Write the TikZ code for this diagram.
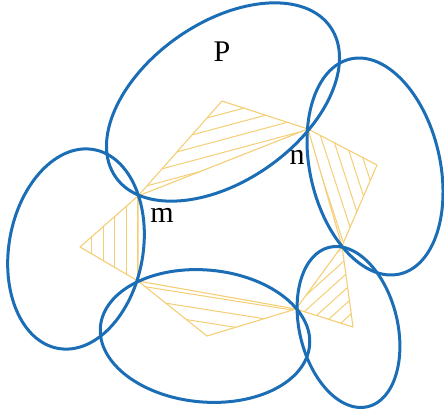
\documentclass[tikz,border=0pt]{standalone}
\usepackage{fontspec}
\setmainfont{Liberation Serif}
\usepackage{tikz}
\usepackage{xcolor}
\usetikzlibrary{calc}
\definecolor{ringblue}{HTML}{1B6EB6}
\definecolor{wedgegold}{HTML}{F4CE74}
\tikzset{
  region/.style={draw=ringblue,line width=1.5pt},
  wedgeedge/.style={draw=wedgegold,line width=0.55pt,line join=round},
  hatchline/.style={draw=wedgegold,line width=0.5pt},
  tag/.style={font=\fontsize{15}{18}\selectfont,inner sep=0pt}
}

\begin{document}
\begin{tikzpicture}[x=0.5pt,y=0.5pt]
    \useasboundingbox (0,0) rectangle (444,414);
    % vertices where the rings cross
    \coordinate (m)  at (138,218);
    \coordinate (n)  at (308,285);
    \coordinate (bl) at (138,133);
    \coordinate (br) at (296,105);
    \coordinate (r)  at (342,168);
    % outer corners of the wedges
    \coordinate (ttop)   at (222,313);
    \coordinate (tleft)  at (80,167);
    \coordinate (tbot)   at (207,78);
    \coordinate (tbr)    at (353,87);
    \coordinate (tright) at (377,249);

    % hatched wedges
    \foreach \pa/\pb/\pc/\ang/\sp in {m/n/ttop/15/12.5, m/bl/tleft/90/11.5,
        bl/br/tbot/-9/13, r/br/tbr/42/11, n/r/tright/-72/11.2} {
      \begin{scope}
        \clip (\pa) -- (\pb) -- (\pc) -- cycle;
        \foreach \k in {-20,...,20}
          \draw[hatchline] ($(\pc)+(\ang+90:\k*\sp)+(\ang:-260)$) -- ++(\ang:520);
      \end{scope}
      \draw[wedgeedge] (\pa) -- (\pb) -- (\pc) -- cycle;
    }

    % rings
    \foreach \cx/\cy/\rot/\ra/\rb in {223/312/35/131/79, 76/165/79.8/101/67,
        205/78/-5.1/105/66, 348.5/87/103.65/82/49, 375/247.5/102.95/110.3/65}
      \draw[region,shift={(\cx,\cy)},rotate=\rot] (0,0)
        ellipse [x radius=\ra, y radius=\rb];

    \node[tag] (labelP) at (222,362) {P};
    \node[tag] (labelm) at (162,199) {m};
    \node[tag] (labeln) at (297,257) {n};
  \end{tikzpicture}
\end{document}
